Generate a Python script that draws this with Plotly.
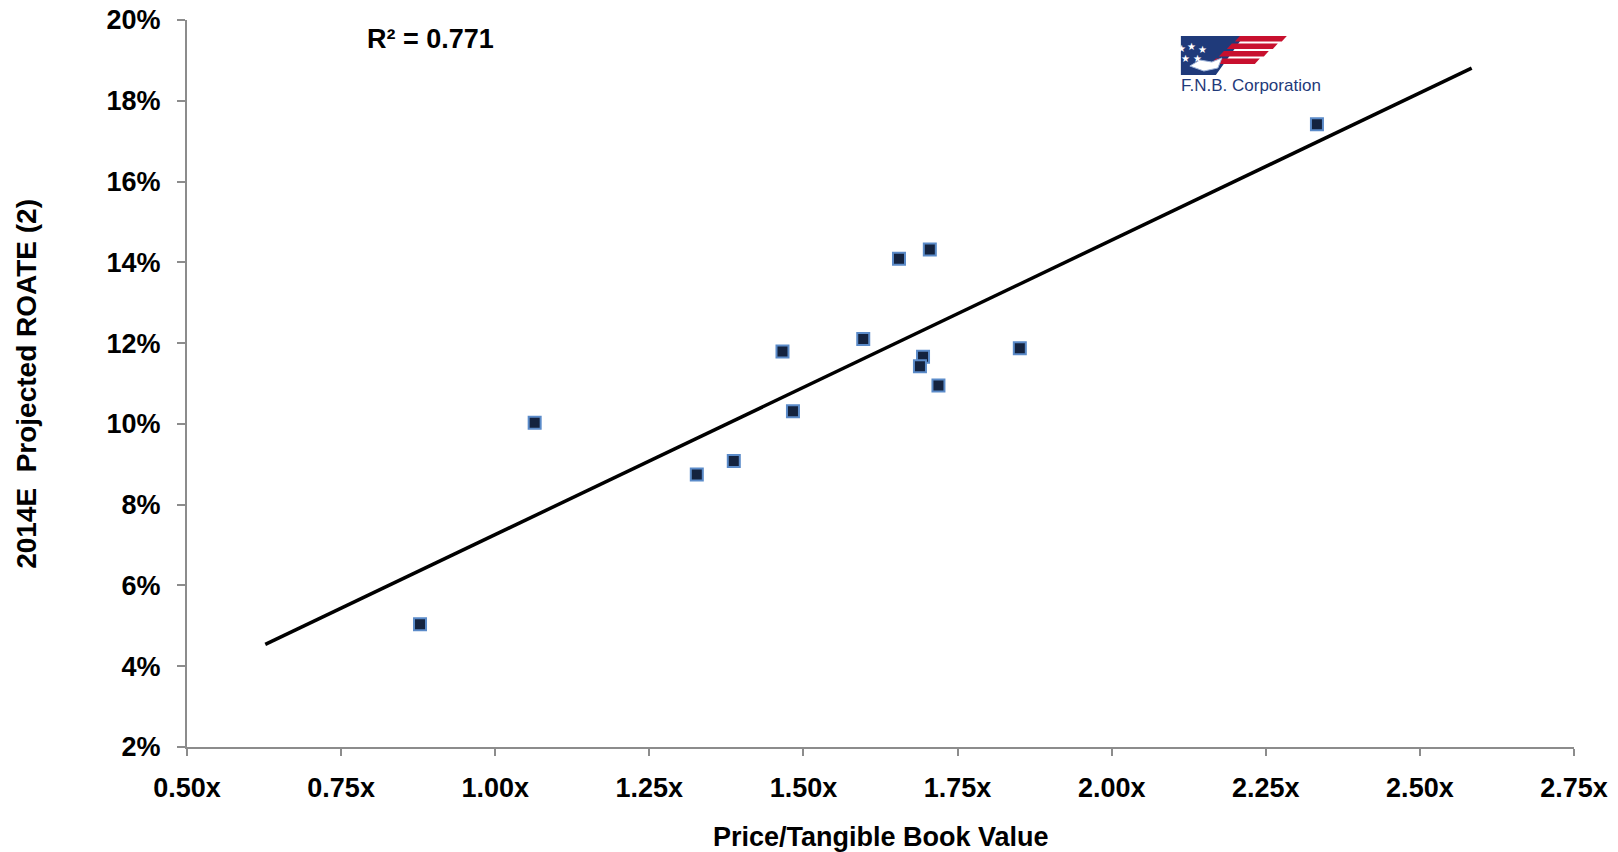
import numpy as np
import plotly.graph_objects as go

# Price / tangible book value (x) vs 2014E projected ROATE (y)
ptbv = [0.878, 1.064, 1.327, 1.387, 1.466, 1.483, 1.597, 1.655, 1.705, 1.694, 1.689, 1.719, 1.851, 2.333]
roate = [0.0504, 0.1003, 0.0875, 0.0908, 0.1179, 0.1031, 0.1210, 0.1409, 0.1432, 0.1166, 0.1143, 0.1095, 0.1187, 0.1742]

trend_x = [0.627, 2.584]
x_ticks = [0.50, 0.75, 1.00, 1.25, 1.50, 1.75, 2.00, 2.25, 2.50, 2.75]
x_tick_labels = [f"{v:.2f}x" for v in x_ticks]
y_ticks = [0.02, 0.04, 0.06, 0.08, 0.10, 0.12, 0.14, 0.16, 0.18, 0.20]

NAVY = "#14233F"
EDGE = "#5B8BC9"
AXIS = "#8C8C8C"
LOGO_BLUE = "#1F3A7A"
LOGO_RED = "#C8102E"
FONT = "Liberation Sans, Arial, sans-serif"
W, H = 1618, 852
BODY = 8  # page body margin that offsets the figure

# plot area in page pixels
L, R, T, B = 186.7, 1574.3, 20.0, 746.7


def px(x):
    return (x - L) / (R - L)


def py(y):
    return (B - y) / (B - T)


slope, intercept = np.polyfit(ptbv, roate, 1)
trend_y = [slope * v + intercept for v in trend_x]

fig = go.Figure()
fig.add_trace(
    go.Scatter(
        x=trend_x,
        y=trend_y,
        mode="lines",
        line={"color": "#000000", "width": 3.5},
        hoverinfo="skip",
    )
)
fig.add_trace(
    go.Scatter(
        x=ptbv,
        y=roate,
        mode="markers",
        marker={"symbol": "square", "size": 12, "color": NAVY, "line": {"color": EDGE, "width": 2}},
    )
)

bold = {"size": 27, "family": FONT, "color": "#000", "weight": "bold"}

fig.add_annotation(
    text="R² = 0.771", xref="paper", yref="paper", x=px(365), y=py(39),
    xanchor="left", yanchor="middle", showarrow=False, font=bold,
)
fig.add_annotation(
    text="Price/Tangible Book Value", xref="paper", yref="paper", x=0.5, y=py(837),
    xanchor="center", yanchor="middle", showarrow=False, font=bold,
)
fig.add_annotation(
    text="2014E\u00a0\u00a0Projected ROATE (2)", xref="paper", yref="paper", x=px(26), y=0.5,
    xanchor="center", yanchor="middle", textangle=-90, showarrow=False,
    font={**bold, "size": 28},
)


# simplified F.N.B. Corporation logo
def poly(points, color):
    d = "M " + " L ".join(f"{px(a):.5f},{py(b):.5f}" for a, b in points) + " Z"
    fig.add_shape(type="path", path=d, xref="paper", yref="paper", fillcolor=color, line={"width": 0}, layer="above")


poly([(1181, 36), (1244, 36), (1216, 75), (1181, 75)], LOGO_BLUE)
for i in range(4):
    top = 36 + i * 7.5
    bot = top + 5.5
    xl = 1240 - i * 8
    xr = 1287 - i * 9
    poly([(xl, top), (xr, top), (xr - 5, bot), (xl - 5, bot)], LOGO_RED)
# handshake hint
fig.add_shape(
    type="path", xref="paper", yref="paper",
    path=(f"M {px(1190):.5f},{py(66):.5f} L {px(1200):.5f},{py(60):.5f} L {px(1212):.5f},{py(62):.5f} "
          f"L {px(1222):.5f},{py(58):.5f} L {px(1218):.5f},{py(68):.5f} L {px(1204):.5f},{py(71):.5f} Z"),
    fillcolor="#FFFFFF", line={"color": "#9DB3D9", "width": 1}, layer="above",
)
for sx, sy in [(1188, 41), (1198, 39), (1209, 42), (1192, 51), (1204, 51)]:
    fig.add_annotation(
        text="★", xref="paper", yref="paper", x=px(sx), y=py(sy), showarrow=False,
        font={"size": 10, "color": "#FFFFFF"},
    )
fig.add_annotation(
    text="F.N.B. Corporation", xref="paper", yref="paper", x=px(1179), y=py(85),
    xanchor="left", yanchor="middle", showarrow=False,
    font={"size": 17, "family": FONT, "color": LOGO_BLUE},
)

fig.update_layout(
    width=W,
    height=H,
    paper_bgcolor="#FFFFFF",
    plot_bgcolor="#FFFFFF",
    showlegend=False,
    margin={"l": L - BODY, "r": W - R + BODY, "t": T - BODY, "b": H - B + BODY, "pad": 0,
            "autoexpand": False},
    font={"family": FONT, "color": "#000"},
)
fig.update_xaxes(
    range=[0.5, 2.75], tickvals=x_ticks, ticktext=x_tick_labels,
    showgrid=False, zeroline=False, showline=True, linecolor=AXIS, linewidth=2,
    ticks="outside", ticklen=7, tickcolor=AXIS, tickwidth=2, ticklabelstandoff=9,
    ticklabeloverflow="allow", automargin=False, tickfont=bold,
)
fig.update_yaxes(
    range=[0.02, 0.20], tickvals=y_ticks, tickformat=".0%",
    showgrid=False, zeroline=False, showline=True, linecolor=AXIS, linewidth=2,
    ticks="outside", ticklen=8, tickcolor=AXIS, tickwidth=2, ticklabelstandoff=11,
    ticklabeloverflow="allow", automargin=False, tickfont=bold,
)

fig.write_html("out.html")
